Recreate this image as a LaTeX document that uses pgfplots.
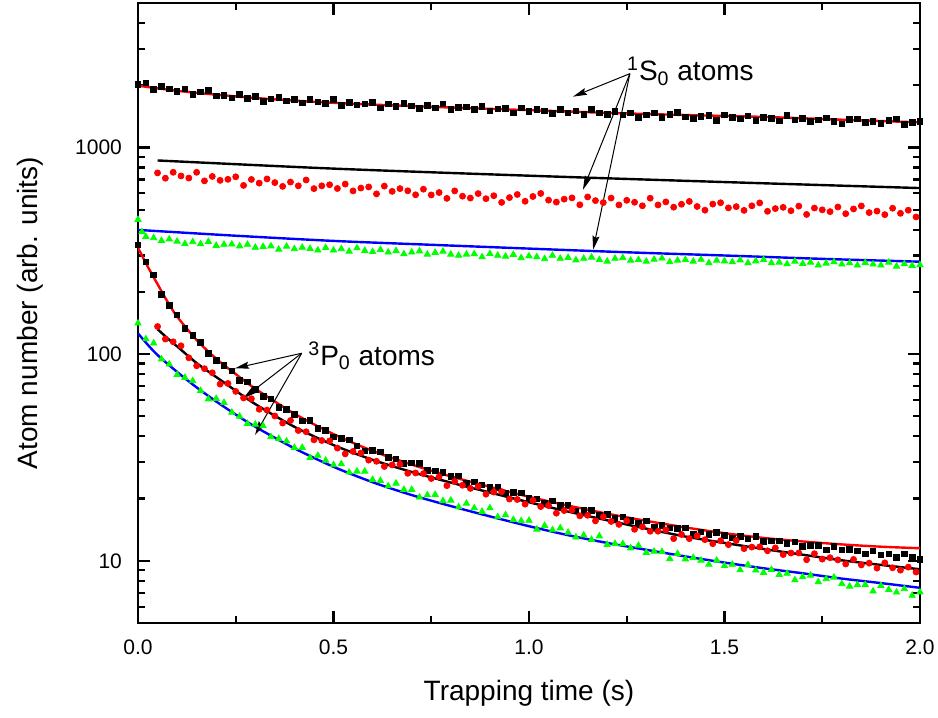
\documentclass[border=0pt]{standalone}
\usepackage{fontspec}
\setmainfont{Liberation Sans}
\usepackage{pgfplots}
\pgfplotsset{compat=1.18}
\usetikzlibrary{arrows.meta}
\definecolor{pred}{rgb}{1,0,0}
\definecolor{pgreen}{rgb}{0,1,0}
\definecolor{pblue}{rgb}{0,0,1}
\begin{document}
\begin{tikzpicture}
\begin{axis}[name=ax, ymode=log, width=391pt, height=310pt, scale only axis,
 xmin=0, xmax=2, ymin=5, ymax=5000,
 xtick={0,0.5,1,1.5,2}, xticklabels={0.0,0.5,1.0,1.5,2.0},
 minor xtick={0.25,0.75,1.25,1.75},
 ytick={10,100,1000}, yticklabels={10,100,1000},
 minor ytick={6,7,8,9,20,30,40,50,60,70,80,90,200,300,400,500,600,700,800,900,2000,3000,4000},
 tick align=inside, xtick pos=both, ytick pos=both,
 major tick length=6pt, minor tick length=3.5pt,
 every tick/.style={black, line width=1.1pt},
 axis line style={line width=1.3pt},
 tick label style={font=\fontsize{10.5}{12}\selectfont},
 xticklabel style={yshift=-4.75pt},
 yticklabel style={xshift=-4.5pt},
 label style={font=\fontsize{14}{16}\selectfont},
 xlabel={Trapping time (s)}, ylabel={Atom number (arb. units)},
 xlabel style={at={(axis description cs:0.5,-0.1129)}, anchor=center},
 ylabel style={at={(axis description cs:-0.1381,0.5)}, anchor=center},
]
% ---- 1S0 data ----
\addplot[only marks, mark=square*, mark size=1.4pt, black] coordinates {
(0,2016)(0.02,2056)(0.04,1905)(0.06,1968)(0.08,1917)(0.10,1867)(0.12,1917)(0.14,1810)(0.16,1858)(0.18,1883)(0.20,1778)(0.22,1788)(0.24,1733)(0.26,1806)(0.28,1731)(0.30,1761)(0.32,1668)(0.34,1720)(0.36,1751)(0.38,1680)(0.40,1710)(0.42,1641)(0.44,1712)(0.46,1663)(0.48,1634)(0.50,1704)(0.52,1600)(0.54,1653)(0.56,1607)(0.58,1621)(0.60,1654)(0.62,1552)(0.64,1624)(0.66,1581)(0.68,1633)(0.70,1590)(0.72,1547)(0.74,1599)(0.76,1556)(0.78,1627)(0.80,1527)(0.82,1560)(0.84,1574)(0.86,1531)(0.88,1582)(0.90,1503)(0.92,1535)(0.94,1548)(0.96,1470)(0.98,1556)(1.00,1497)(1.02,1528)(1.04,1505)(1.06,1464)(1.08,1531)(1.10,1472)(1.12,1503)(1.14,1444)(1.16,1528)(1.18,1470)(1.20,1447)(1.22,1495)(1.24,1438)(1.26,1467)(1.28,1393)(1.30,1440)(1.32,1470)(1.34,1398)(1.36,1445)(1.38,1475)(1.40,1403)(1.42,1382)(1.44,1412)(1.46,1425)(1.48,1353)(1.50,1434)(1.52,1397)(1.54,1377)(1.56,1424)(1.58,1355)(1.60,1402)(1.62,1382)(1.64,1346)(1.66,1426)(1.68,1357)(1.70,1386)(1.72,1333)(1.74,1362)(1.76,1391)(1.78,1338)(1.80,1301)(1.82,1363)(1.84,1376)(1.86,1325)(1.88,1338)(1.90,1303)(1.92,1348)(1.94,1377)(1.96,1294)(1.98,1323)(2.00,1336)};
\addplot[only marks, mark=*, mark size=1.5pt, pred] coordinates {
(0.05,753)(0.07,710)(0.09,758)(0.11,728)(0.13,711)(0.15,758)(0.17,689)(0.19,724)(0.21,693)(0.23,701)(0.25,721)(0.27,655)(0.29,700)(0.31,672)(0.33,704)(0.35,676)(0.37,648)(0.39,680)(0.41,652)(0.43,696)(0.45,632)(0.47,652)(0.49,660)(0.51,633)(0.53,665)(0.55,616)(0.57,636)(0.59,644)(0.61,596)(0.63,650)(0.65,613)(0.67,632)(0.69,617)(0.71,590)(0.73,628)(0.75,589)(0.77,605)(0.79,567)(0.81,616)(0.83,581)(0.85,569)(0.87,598)(0.89,565)(0.91,584)(0.93,542)(0.95,572)(0.97,592)(0.99,549)(1.01,579)(1.03,599)(1.05,556)(1.07,544)(1.09,562)(1.11,570)(1.13,528)(1.15,576)(1.17,553)(1.19,541)(1.21,569)(1.23,527)(1.25,555)(1.27,543)(1.29,522)(1.31,568)(1.33,527)(1.35,545)(1.37,514)(1.39,531)(1.41,548)(1.43,518)(1.45,497)(1.47,532)(1.49,540)(1.51,510)(1.53,517)(1.55,496)(1.57,522)(1.59,539)(1.61,491)(1.63,506)(1.65,513)(1.67,494)(1.69,520)(1.71,474)(1.73,509)(1.75,499)(1.77,489)(1.79,515)(1.81,478)(1.83,504)(1.85,521)(1.87,484)(1.89,492)(1.91,473)(1.93,508)(1.95,480)(1.97,497)(1.99,461)};
\addplot[only marks, mark=triangle*, mark size=1.8pt, pgreen] coordinates {
(0,447)(0.01,390)(0.02,370)(0.04,365)(0.06,354)(0.08,360)(0.10,351)(0.12,342)(0.14,349)(0.16,341)(0.18,350)(0.20,335)(0.22,339)(0.24,340)(0.26,333)(0.28,339)(0.30,328)(0.32,331)(0.34,333)(0.36,321)(0.38,332)(0.40,323)(0.42,328)(0.44,324)(0.46,318)(0.48,327)(0.50,318)(0.52,323)(0.54,314)(0.56,326)(0.58,317)(0.60,313)(0.62,320)(0.64,311)(0.66,316)(0.68,305)(0.70,311)(0.72,315)(0.74,304)(0.76,310)(0.78,314)(0.80,304)(0.82,300)(0.84,304)(0.86,305)(0.88,295)(0.90,306)(0.92,300)(0.94,297)(0.96,303)(0.98,292)(1.00,298)(1.02,295)(1.04,289)(1.06,300)(1.08,290)(1.10,293)(1.12,285)(1.14,290)(1.16,294)(1.18,286)(1.20,281)(1.22,290)(1.24,292)(1.26,284)(1.28,286)(1.30,281)(1.32,287)(1.34,291)(1.36,279)(1.38,284)(1.40,286)(1.42,281)(1.44,287)(1.46,276)(1.48,284)(1.50,282)(1.52,279)(1.54,285)(1.56,276)(1.58,282)(1.60,286)(1.62,276)(1.64,278)(1.66,273)(1.68,281)(1.70,274)(1.72,278)(1.74,269)(1.76,275)(1.78,279)(1.80,272)(1.82,276)(1.84,269)(1.86,277)(1.88,272)(1.90,269)(1.92,278)(1.94,266)(1.96,273)(1.98,268)(2.00,270)};
% ---- 3P0 data ----
\addplot[only marks, mark=square*, mark size=1.4pt, black] coordinates {
(0,337)(0.02,279)(0.04,242)(0.06,194)(0.08,172)(0.10,155)(0.12,133)(0.14,123)(0.16,114)(0.18,101)(0.20,93.1)(0.22,88)(0.24,82.8)(0.26,74.7)(0.28,73.4)(0.30,67.5)(0.32,62.4)(0.34,60.7)(0.36,55.4)(0.38,54.0)(0.40,51.0)(0.42,47.5)(0.44,47.7)(0.46,43.8)(0.48,42.7)(0.50,39.8)(0.52,39.0)(0.54,38.4)(0.56,35.9)(0.58,34.0)(0.60,34.3)(0.62,33.7)(0.64,31.7)(0.66,31.1)(0.68,29.6)(0.70,29.7)(0.72,29.5)(0.74,27.3)(0.76,27.2)(0.78,26.8)(0.80,25.6)(0.82,25.7)(0.84,23.8)(0.86,24.1)(0.88,23.3)(0.90,22.6)(0.92,22.6)(0.94,21.3)(0.96,21.4)(0.98,21.3)(1.00,20.1)(1.02,19.9)(1.04,19.1)(1.06,19.5)(1.08,18.5)(1.10,18.5)(1.12,17.4)(1.14,17.5)(1.16,17.5)(1.18,16.7)(1.20,16.8)(1.22,16.0)(1.24,16.3)(1.26,15.7)(1.28,15.2)(1.30,15.6)(1.32,14.6)(1.34,14.8)(1.36,14.4)(1.38,14.3)(1.40,14.4)(1.42,13.5)(1.44,13.8)(1.46,13.4)(1.48,13.7)(1.50,13.3)(1.52,12.9)(1.54,13.15)(1.56,12.76)(1.58,13.14)(1.60,12.38)(1.62,12.50)(1.64,12.49)(1.66,12.12)(1.68,12.35)(1.70,11.75)(1.72,11.86)(1.74,11.86)(1.76,11.27)(1.78,11.73)(1.80,11.27)(1.82,11.37)(1.84,11.15)(1.86,10.81)(1.88,11.14)(1.90,10.70)(1.92,10.81)(1.94,10.38)(1.96,10.79)(1.98,10.37)(2.00,10.16)};
\addplot[only marks, mark=*, mark size=1.5pt, pred] coordinates {
(0.05,136)(0.07,118.3)(0.09,114.7)(0.11,109.7)(0.13,96.0)(0.15,87.8)(0.17,85)(0.19,81.2)(0.21,71.6)(0.23,72.1)(0.25,66)(0.27,61.4)(0.29,60.8)(0.31,54.1)(0.33,53.6)(0.35,50.2)(0.37,46.4)(0.39,47.7)(0.41,42.7)(0.43,42.1)(0.45,38.5)(0.47,38.2)(0.49,38.0)(0.51,35.1)(0.53,32.9)(0.55,33.8)(0.57,33.2)(0.59,30.7)(0.61,30.3)(0.63,28.6)(0.65,29.1)(0.67,29.3)(0.69,26.5)(0.71,26.6)(0.73,26.4)(0.75,25.0)(0.77,25.5)(0.79,23.1)(0.81,24.2)(0.83,23.2)(0.85,22.4)(0.87,22.9)(0.89,21.0)(0.91,21.5)(0.93,21.6)(0.95,19.9)(0.97,19.8)(0.99,18.8)(1.01,19.6)(1.03,18.3)(1.05,18.5)(1.07,17.0)(1.09,17.5)(1.11,17.6)(1.13,16.5)(1.15,16.6)(1.17,15.6)(1.19,16.3)(1.21,15.5)(1.23,15.0)(1.25,15.6)(1.27,14.2)(1.29,14.6)(1.31,13.9)(1.33,13.9)(1.35,14.1)(1.37,12.8)(1.39,13.4)(1.41,12.8)(1.43,13.2)(1.45,12.65)(1.47,12.1)(1.49,12.5)(1.51,11.97)(1.53,12.54)(1.55,11.45)(1.57,11.65)(1.59,11.67)(1.61,11.18)(1.63,11.54)(1.65,10.72)(1.67,10.9)(1.69,10.91)(1.71,10.12)(1.73,10.82)(1.75,10.19)(1.77,10.35)(1.79,10.1)(1.81,9.65)(1.83,10.15)(1.85,9.55)(1.87,9.74)(1.89,9.22)(1.91,9.77)(1.93,9.25)(1.95,9.01)(1.97,9.32)(1.99,8.82)};
\addplot[only marks, mark=triangle*, mark size=1.8pt, pgreen] coordinates {
(0,141)(0.02,118.3)(0.04,112.9)(0.06,94.6)(0.08,89.3)(0.10,79.5)(0.12,77)(0.14,74.2)(0.16,66.5)(0.18,60.6)(0.20,60.9)(0.22,58.2)(0.24,52.2)(0.26,50)(0.28,46.1)(0.30,45.7)(0.32,44.9)(0.34,39.8)(0.36,39)(0.38,37.9)(0.40,35.3)(0.42,35.3)(0.44,31.5)(0.46,32.3)(0.48,30.6)(0.50,29.1)(0.52,29.4)(0.54,26.8)(0.56,27.1)(0.58,27.1)(0.60,24.7)(0.62,24.4)(0.64,23.0)(0.66,23.7)(0.68,22.1)(0.70,22.1)(0.72,20.3)(0.74,20.8)(0.76,20.9)(0.78,19.5)(0.80,19.6)(0.82,18.2)(0.84,18.95)(0.86,18.0)(0.88,17.3)(0.90,18.0)(0.92,16.3)(0.94,16.65)(0.96,15.8)(0.98,15.6)(1.00,15.66)(1.02,14.2)(1.04,14.8)(1.06,14.1)(1.08,14.4)(1.10,13.7)(1.12,13.0)(1.14,13.3)(1.16,12.66)(1.18,13.17)(1.20,11.98)(1.22,12.1)(1.24,12.08)(1.26,11.52)(1.28,11.85)(1.30,10.96)(1.32,11.1)(1.34,11.06)(1.36,10.22)(1.38,10.82)(1.40,10.19)(1.42,10.35)(1.44,10.05)(1.46,9.6)(1.48,10.04)(1.50,9.46)(1.52,9.59)(1.54,9.02)(1.56,9.56)(1.58,9.0)(1.60,8.77)(1.62,9.06)(1.64,8.57)(1.66,8.68)(1.68,8.07)(1.70,8.35)(1.72,8.5)(1.74,7.9)(1.76,8.17)(1.78,8.31)(1.80,7.73)(1.82,7.52)(1.84,7.65)(1.86,7.66)(1.88,7.12)(1.90,7.57)(1.92,7.25)(1.94,7.04)(1.96,7.31)(1.98,6.79)(2.00,7.05)};
% ---- fits ----
\addplot[pred, line width=1.2pt, smooth, no marks] coordinates {
(0,1990)(0.1,1880)(0.2,1800)(0.3,1735)(0.4,1685)(0.5,1645)(0.6,1612)(0.8,1560)(1.0,1515)(1.2,1470)(1.4,1435)(1.6,1405)(1.8,1362)(2.0,1322)};
\addplot[black, line width=1.2pt, smooth, no marks] coordinates {
(0.05,865)(0.5,790)(1.0,730)(1.5,680)(2.0,636)};
\addplot[pblue, line width=1.2pt, smooth, no marks] coordinates {
(0,399)(0.25,374)(0.5,353)(0.75,338)(1.0,324)(1.25,311)(1.5,300)(1.75,289)(2.0,280)};
\addplot[pred, line width=1.2pt, smooth, no marks] coordinates {
(0,327)(0.025,265)(0.05,218)(0.075,180)(0.1,152)(0.15,117)(0.2,95)(0.25,80)(0.3,68)(0.4,51.5)(0.5,41)(0.6,34)(0.7,29.2)(0.8,25.6)(0.9,22.8)(1.0,20.4)(1.1,18.5)(1.2,16.9)(1.3,15.6)(1.4,14.5)(1.5,13.6)(1.6,12.9)(1.7,12.4)(1.8,12.0)(1.9,11.7)(2.0,11.5)};
\addplot[black, line width=1.2pt, smooth, no marks] coordinates {
(0.05,132)(0.075,119.5)(0.1,109)(0.15,90.5)(0.2,77.5)(0.25,66.5)(0.3,57.3)(0.4,44.5)(0.5,36.3)(0.6,30.8)(0.7,26.9)(0.8,23.9)(0.9,21.4)(1.0,19.2)(1.1,17.3)(1.2,15.7)(1.3,14.3)(1.4,13.1)(1.5,12.2)(1.6,11.4)(1.7,10.7)(1.8,10.05)(1.9,9.55)(2.0,9.1)};
\addplot[pblue, line width=1.2pt, smooth, no marks] coordinates {
(0,126)(0.025,111)(0.05,99)(0.1,82)(0.15,69)(0.2,59)(0.25,51)(0.3,44.5)(0.4,35)(0.5,28.5)(0.6,24)(0.7,20.8)(0.8,18.4)(0.9,16.4)(1.0,14.7)(1.1,13.3)(1.2,12.2)(1.3,11.3)(1.4,10.5)(1.5,9.8)(1.6,9.2)(1.7,8.7)(1.8,8.2)(1.9,7.8)(2.0,7.4)};
% ---- annotations ----
\node[anchor=base west, inner sep=0pt, font=\fontsize{14}{16}\selectfont] at (axis cs:1.25,2100) {\textsuperscript{1}S\textsubscript{0} atoms};
\node[anchor=base west, inner sep=0pt, font=\fontsize{14}{16}\selectfont] at (axis cs:0.4348,88) {\textsuperscript{3}P\textsubscript{0} atoms};
\draw[line width=0.5pt, -{Stealth[length=7pt,width=3.5pt,inset=1pt]}] (axis cs:1.258,2275) -- (axis cs:1.1125,1761);
\draw[line width=0.5pt, -{Stealth[length=7pt,width=3.5pt,inset=1pt]}] (axis cs:1.258,2275) -- (axis cs:1.138,624);
\draw[line width=0.5pt, -{Stealth[length=7pt,width=3.5pt,inset=1pt]}] (axis cs:1.258,2275) -- (axis cs:1.164,320);
\draw[line width=0.5pt, -{Stealth[length=7pt,width=3.5pt,inset=1pt]}] (axis cs:0.4187,101) -- (axis cs:0.2481,85.4);
\draw[line width=0.5pt, -{Stealth[length=7pt,width=3.5pt,inset=1pt]}] (axis cs:0.4187,101) -- (axis cs:0.2693,61.1);
\draw[line width=0.5pt, -{Stealth[length=7pt,width=3.5pt,inset=1pt]}] (axis cs:0.4187,101) -- (axis cs:0.2992,40.6);
\end{axis}
\pgfresetboundingbox
\path[use as bounding box] ([shift={(-69pt,-47.5pt)}]ax.south west) rectangle ([shift={(9pt,1.5pt)}]ax.north east);
\end{tikzpicture}
\end{document}
